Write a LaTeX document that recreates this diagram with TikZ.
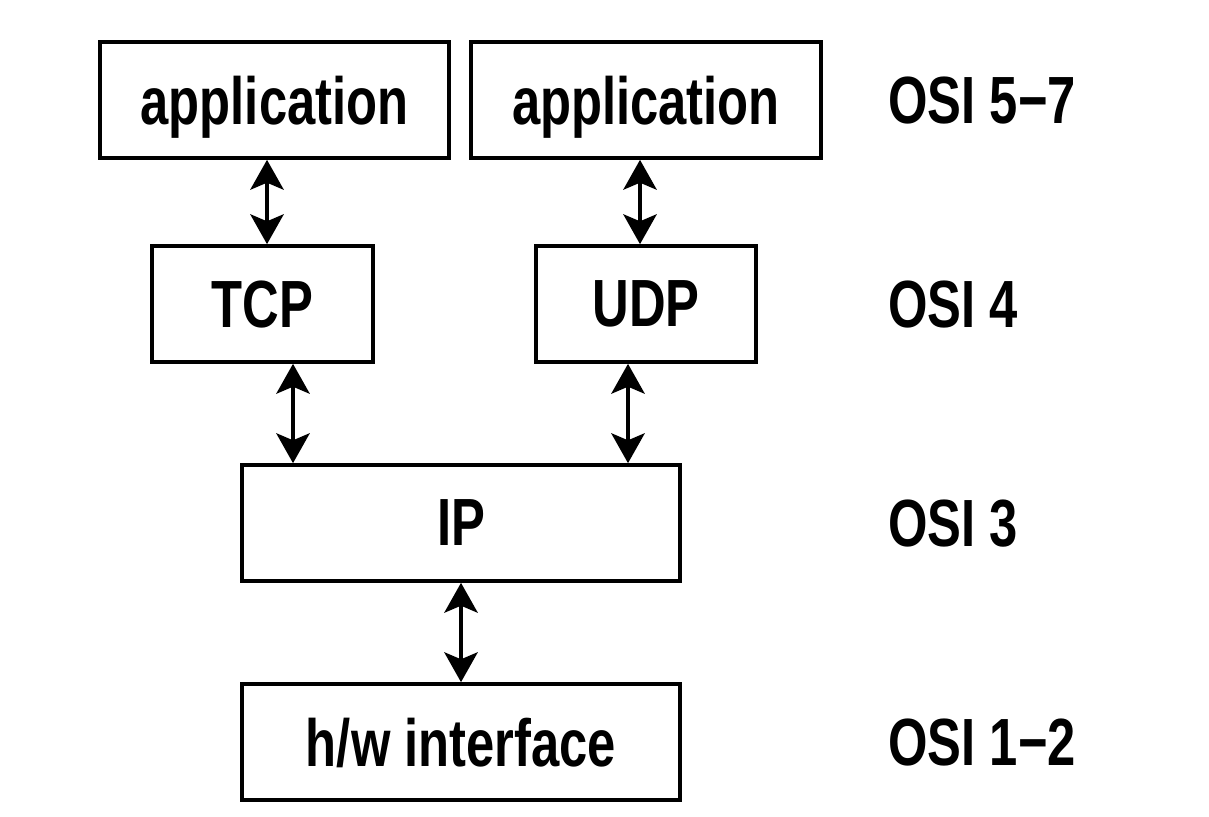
\documentclass[tikz,border=0pt]{standalone}
\usepackage{fontspec}
\setmainfont{Liberation Sans Bold}[FakeStretch=0.76]
\usetikzlibrary{arrows.meta}
\begin{document}
\begin{tikzpicture}[x={(0.02cm,0)},y={(0,-0.02cm)},
  box/.style={draw,line width=2.1pt,inner sep=0pt,text depth=0pt,font=\fontsize{38}{42}\selectfont},
  lbl/.style={anchor=west,inner sep=0pt,text depth=0pt,font=\fontsize{38}{42}\selectfont},
  conn/.style={line width=2pt,{Stealth[length=17pt,width=19pt,inset=4pt]}-{Stealth[length=17pt,width=19pt,inset=4pt]}}]
\useasboundingbox (0,0) rectangle (1209,817);
\node[box,minimum width=349*0.02cm,minimum height=116*0.02cm] (app1) at (274.5,100) {application};
\node[box,minimum width=350*0.02cm,minimum height=116*0.02cm] (app2) at (646,100) {application};
\node[box,minimum width=221*0.02cm,minimum height=116*0.02cm] (tcp) at (262.5,304) {TCP};
\node[box,minimum width=220*0.02cm,minimum height=116*0.02cm] (udp) at (646,304) {UDP};
\node[box,minimum width=438*0.02cm,minimum height=116*0.02cm] (ip) at (461,523) {IP};
\node[box,minimum width=438*0.02cm,minimum height=116*0.02cm] (hw) at (461,742) {h/w interface};
\node[lbl] (l1) at (888,100) {OSI 5−7};
\node[lbl] (l2) at (888,304) {OSI 4};
\node[lbl] (l3) at (888,523) {OSI 3};
\node[lbl] (l4) at (888,742) {OSI 1−2};
\draw[conn] (app1.south -| 267,0) -- (tcp.north -| 267,0);
\draw[conn] (app2.south -| 640,0) -- (udp.north -| 640,0);
\draw[conn] (tcp.south -| 293,0) -- (ip.north -| 293,0);
\draw[conn] (udp.south -| 628,0) -- (ip.north -| 628,0);
\draw[conn] (ip.south) -- (hw.north);
\end{tikzpicture}
\end{document}
